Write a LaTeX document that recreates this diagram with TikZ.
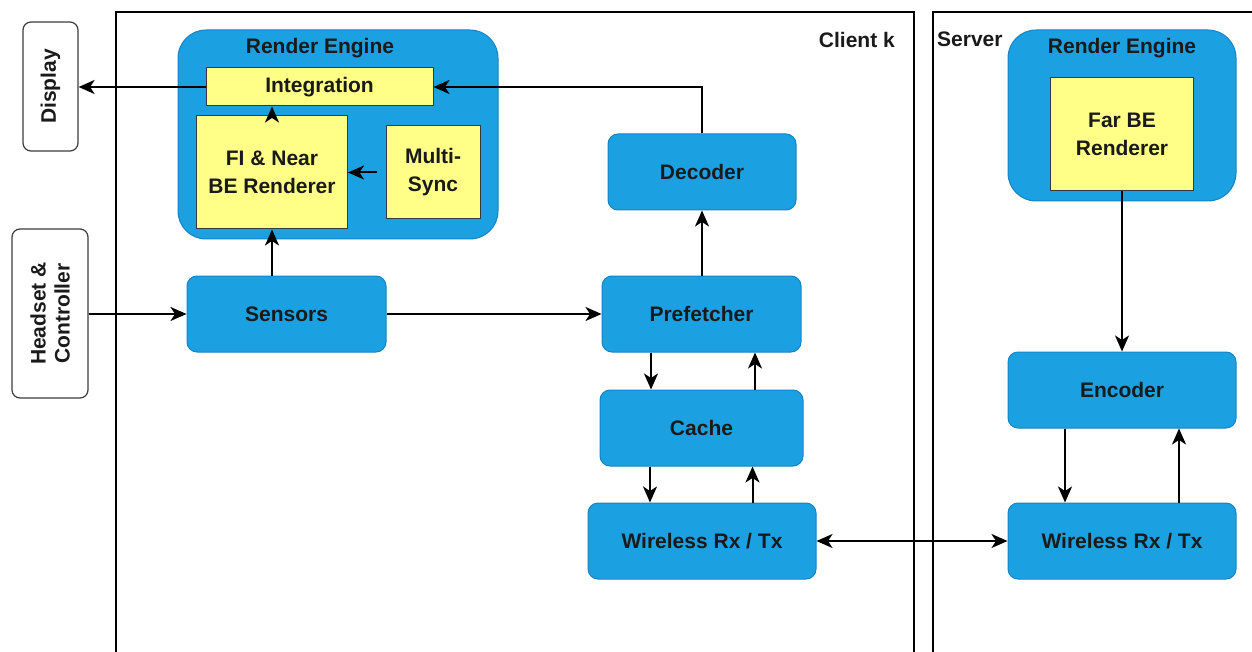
\documentclass[tikz,border=0pt]{standalone}
\usepackage{fontspec}
\setmainfont{Liberation Sans}
\usetikzlibrary{arrows.meta}
\definecolor{boxblue}{HTML}{1BA1E2}
\definecolor{boxedge}{HTML}{1683C5}
\definecolor{noteyellow}{HTML}{FFFF88}
\definecolor{noteedge}{HTML}{36393D}
\definecolor{ink}{HTML}{1A1A1A}

\tikzset{
  labelfont/.style={font=\fontsize{21}{28}\selectfont\bfseries, text=ink},
  blk/.style={draw=boxedge, fill=boxblue, rounded corners=10pt, line width=1pt,
    inner sep=0pt, labelfont},
  engine/.style={draw=boxedge, fill=boxblue, rounded corners=28pt, line width=1pt,
    inner sep=0pt},
  part/.style={draw=noteedge, fill=noteyellow, line width=1pt, inner sep=0pt,
    align=center, labelfont},
  device/.style={draw=ink!85, fill=white, rounded corners=8pt, line width=1.2pt,
    inner sep=0pt},
  frame/.style={draw=black, line width=1.5pt},
  arr/.style={draw=black, line width=2pt,
    -{Stealth[length=16pt,width=14pt,inset=4.5pt]}},
  biarr/.style={draw=black, line width=2pt,
    {Stealth[length=16pt,width=14pt,inset=4.5pt]}-{Stealth[length=16pt,width=14pt,inset=4.5pt]}},
}

\begin{document}
\begin{tikzpicture}[x=1pt,y=-1pt]
\useasboundingbox[fill=white] (0,0) rectangle (1252,652);

% client and server frames
\draw[frame] (116,660) -- (116,12) -- (914,12) -- (914,660);
\draw[frame] (933,660) -- (933,12) -- (1262,12);
\node[labelfont, anchor=east, inner sep=0pt] (clientlbl) at (895,40) {Client k};
\node[labelfont, anchor=west, inner sep=0pt] (serverlbl) at (937,39) {Server};

% external devices
\node[device, minimum width=55pt, minimum height=129pt] (disp) at (50.5,86.5) {};
\node[labelfont, rotate=90] (disptxt) at (disp.center) {Display};
\node[device, minimum width=76pt, minimum height=169pt] (hs) at (50,313.5) {};
\node[labelfont, rotate=90, align=center, font=\fontsize{21}{24}\selectfont\bfseries]
  (hstxt) at (hs.center) {Headset \&\\Controller};

% client render engine
\node[engine, minimum width=320pt, minimum height=209pt] (re) at (338,134.5) {};
\node[labelfont, inner sep=0pt] (retitle) at (320,48) {Render Engine};
\node[part, minimum width=227pt, minimum height=38pt] (integ) at (319.5,87) {Integration};
\node[part, minimum width=151pt, minimum height=113pt] (fi) at (272,172.5) {FI \& Near\\BE Renderer};
\node[part, minimum width=94pt, minimum height=93pt] (ms) at (433,172.5) {Multi-\\Sync};

% client pipeline
\node[blk, minimum width=199pt, minimum height=76pt] (sens) at (286.5,314) {Sensors};
\node[blk, minimum width=188pt, minimum height=76pt] (dec) at (702,172) {Decoder};
\node[blk, minimum width=199pt, minimum height=76pt] (pf) at (701.5,314) {Prefetcher};
\node[blk, minimum width=203pt, minimum height=76pt] (cache) at (701.5,428) {Cache};
\node[blk, minimum width=228pt, minimum height=76pt] (wc) at (702,541) {Wireless Rx / Tx};

% server side
\node[engine, minimum width=228pt, minimum height=171pt] (sre) at (1122,115.5) {};
\node[labelfont, inner sep=0pt] (sretitle) at (1122,48) {Render Engine};
\node[part, minimum width=143pt, minimum height=113pt] (fbe) at (1122,134.5) {Far BE\\Renderer};
\node[blk, minimum width=228pt, minimum height=76pt] (enc) at (1122,390) {Encoder};
\node[blk, minimum width=228pt, minimum height=76pt] (ws) at (1122,541) {Wireless Rx / Tx};

% connectors
\draw[arr] (integ.west) -- (integ.west -| disp.east);
\draw[arr] (fi.north) -- (fi.north |- integ.south);
\draw[arr, shorten <=9pt] (ms.west) -- (fi.east);
\draw[arr] (dec.north) |- (integ.east);
\draw[arr] (fi.south |- sens.north) -- (fi.south);
\draw[arr] (hs.east |- sens.west) -- (sens.west);
\draw[arr] (sens.east) -- (pf.west);
\draw[arr] (dec.south |- pf.north) -- (dec.south);
\draw[arr] ([xshift=-50.5pt]pf.south) -- ([xshift=-50.5pt]pf.south |- cache.north);
\draw[arr] ([xshift=53.5pt]cache.north) -- ([xshift=53.5pt]cache.north |- pf.south);
\draw[arr] ([xshift=-51.5pt]cache.south) -- ([xshift=-51.5pt]cache.south |- wc.north);
\draw[arr] ([xshift=50.5pt]wc.north) -- ([xshift=50.5pt]wc.north |- cache.south);
\draw[biarr] (wc.east) -- (ws.west);
\draw[arr] (fbe.south) -- (fbe.south |- enc.north);
\draw[arr] ([xshift=-57pt]enc.south) -- ([xshift=-57pt]enc.south |- ws.north);
\draw[arr] ([xshift=57pt]ws.north) -- ([xshift=57pt]ws.north |- enc.south);
\end{tikzpicture}
\end{document}
